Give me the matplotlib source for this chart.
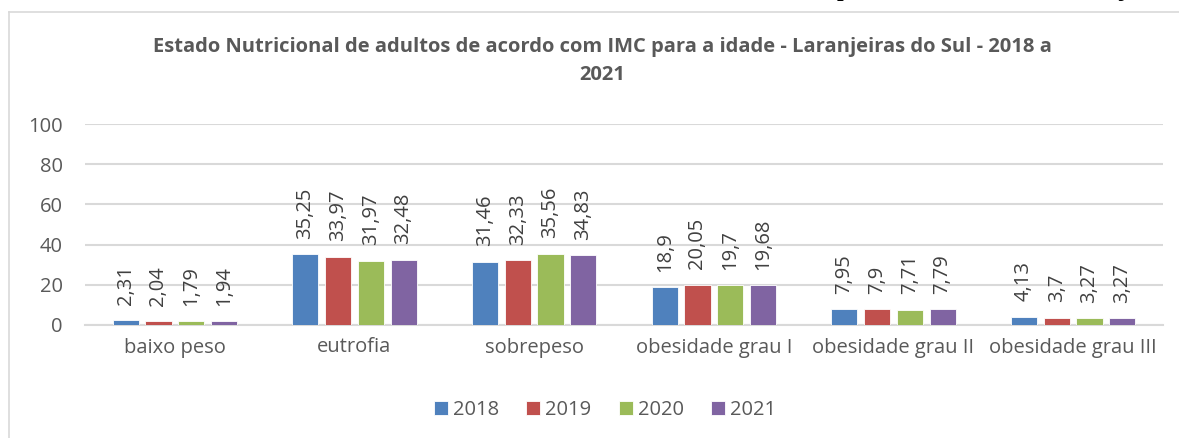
import matplotlib
matplotlib.use("Agg")
import matplotlib.pyplot as plt
import numpy as np

# data
categorias = ["baixo peso", "eutrofia", "sobrepeso", "obesidade grau I",
              "obesidade grau II", "obesidade grau III"]
anos = ["2018", "2019", "2020", "2021"]
v2018 = [2.31, 35.25, 31.46, 18.9, 7.95, 4.13]
v2019 = [2.04, 33.97, 32.33, 20.05, 7.9, 3.7]
v2020 = [1.79, 31.97, 35.56, 19.7, 7.71, 3.27]
v2021 = [1.94, 32.48, 34.83, 19.68, 7.79, 3.27]
series = [v2018, v2019, v2020, v2021]
cores = ["#4F81BD", "#C0504D", "#9BBB59", "#8064A2"]

plt.rcParams['font.family'] = ['Open Sans', 'DejaVu Sans']
fs = 14.5

W, H = 1179, 438
fig = plt.figure(figsize=(W / 100, H / 100), dpi=100)

# chart area border (Excel style)
fig.add_artist(plt.Line2D([9 / W, 1], [1 - 12 / H, 1 - 12 / H], color="#d9d9d9", lw=1.2))
fig.add_artist(plt.Line2D([9 / W, 9 / W], [0, 1 - 12 / H], color="#d9d9d9", lw=1.2))

# descenders of the document heading cut off above the chart
fig.text(843 / W, 1 + 4 / H, "p", fontsize=17, fontweight="bold",
         family="Liberation Serif", ha="center", va="baseline")
fig.text(1122 / W, 1 + 4 / H, "j", fontsize=17, fontweight="bold",
         family="Liberation Serif", ha="center", va="baseline")

ax = fig.add_axes([85 / W, 1 - 325 / H, (1163 - 85) / W, (325 - 124) / H])

x = np.arange(len(categorias))
largura = 0.145
passo = 0.182
for i, (vals, cor, ano) in enumerate(zip(series, cores, anos)):
    pos = x + (i - 1.5) * passo
    ax.bar(pos, vals, width=largura, color=cor, edgecolor="white", linewidth=0.6,
           label=ano, zorder=3)
    for xp, v in zip(pos, vals):
        txt = ("%g" % v).replace(".", ",")
        ax.annotate(txt, (xp, v), xytext=(0, 11), textcoords="offset points",
                    rotation=90, ha="center", va="bottom", fontsize=fs,
                    color="#404040")

ax.set_xlim(-0.5, len(categorias) - 0.5)
ax.set_ylim(0, 100)
ax.set_yticks([0, 20, 40, 60, 80, 100])
ax.set_xticks(x)
ax.set_xticklabels(categorias)
ax.tick_params(axis="both", length=0, labelsize=fs, labelcolor="#595959")
ax.tick_params(axis="x", pad=9)
ax.tick_params(axis="y", pad=16)
ax.grid(axis="y", color="#d9d9d9", lw=1.5, zorder=0)
for s in ["top", "right", "left"]:
    ax.spines[s].set_visible(False)
ax.spines["bottom"].set_color("#d9d9d9")
ax.spines["bottom"].set_linewidth(1.5)

fig.text(602 / W, 1 - 47 / H,
         "Estado Nutricional de adultos de acordo com IMC para a idade - Laranjeiras do Sul - 2018 a",
         ha="center", va="center", fontsize=fs, fontweight="bold", color="#595959")
fig.text(602 / W, 1 - 75 / H, "2021", ha="center", va="center", fontsize=fs,
         fontweight="bold", color="#595959")

leg = fig.legend(loc="center", bbox_to_anchor=(605 / W, 1 - 410 / H), ncol=4,
                 frameon=False, fontsize=fs, handlelength=0.7, handleheight=0.7,
                 handletextpad=0.25, columnspacing=1.35)
for t in leg.get_texts():
    t.set_color("#595959")

plt.savefig("out.png", dpi=100)
